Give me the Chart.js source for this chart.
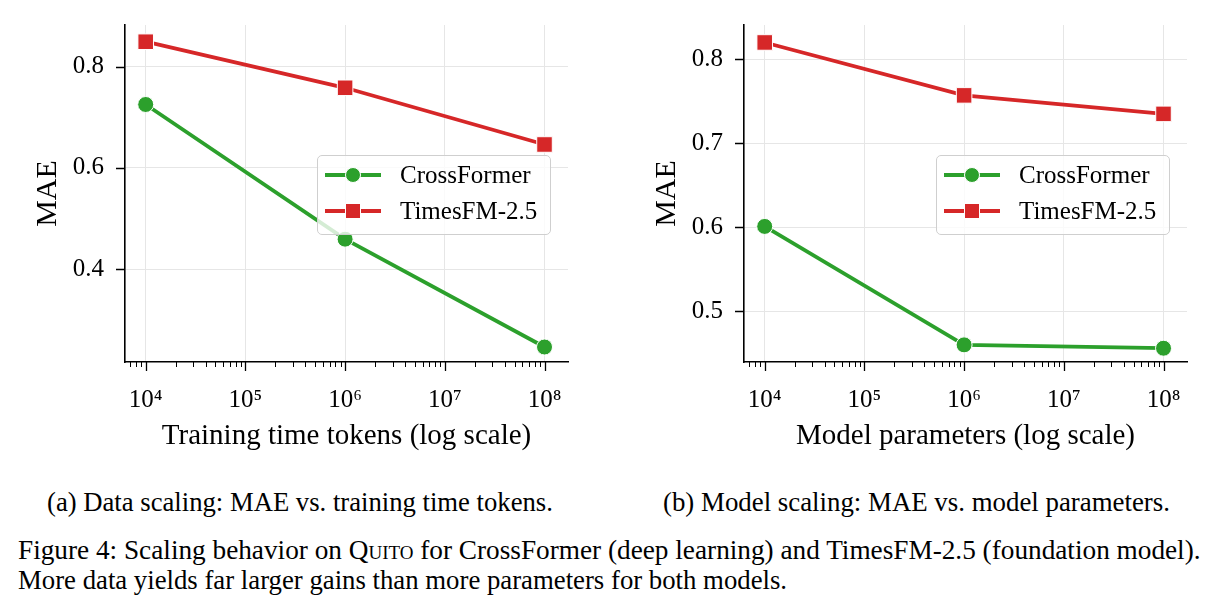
<!DOCTYPE html>
<html>
<head>
<meta charset="utf-8">
<script src="https://cdn.jsdelivr.net/npm/chart.js@4.4.1/dist/chart.umd.min.js"></script>
<style>
  html, body { margin: 0; padding: 0; background: #fff; }
  body { width: 1218px; height: 615px; position: relative; overflow: hidden;
         font-family: "Liberation Serif", "Times New Roman", serif; color: #000; }
  .panel { position: absolute; top: 0; width: 600px; height: 460px; }
  .panel canvas { position: absolute; left: 0; top: 0; }
  .legend { position: absolute; left: 317px; top: 155px; width: 234px; height: 80px;
            box-sizing: border-box; border: 1.5px solid #cfcfcf; border-radius: 5px;
            background: rgba(255,255,255,0.8); font-size: 25px; }
  .item { position: absolute; left: 0; width: 100%; height: 30px; }
  .item .ln { position: absolute; left: 7px; width: 56px; top: 13px; height: 4px; }
  .item .mk { position: absolute; left: 27px; top: 7px; width: 16px; height: 16px;
              box-sizing: border-box; border: 1px solid #fff; }
  .item .txt { position: absolute; left: 82px; top: 0; line-height: 30px; white-space: nowrap; }
  .cap { position: absolute; font-size: 27px; white-space: nowrap; line-height: 30px; }
  .sc { font-variant: small-caps; }
</style>
</head>
<body>
<div class="panel" id="panelA" style="left:0px"><canvas id="chartA" width="600" height="460"></canvas></div>
<div class="panel" id="panelB" style="left:619px"><canvas id="chartB" width="600" height="460"></canvas></div>

<div class="cap" id="capA" data-w="506" style="top:487px; left:47px">(a) Data scaling: MAE vs. training time tokens.</div>
<div class="cap" id="capB" data-w="507" style="top:487px; left:663px">(b) Model scaling: MAE vs. model parameters.</div>
<div class="cap" id="fig1" data-w="1183" style="top:535px; left:18px">Figure 4: Scaling behavior on <span class="sc">Quito</span> for CrossFormer (deep learning) and TimesFM-2.5 (foundation model).</div>
<div class="cap" id="fig2" data-w="769" style="top:565px; left:18px">More data yields far larger gains than more parameters for both models.</div>

<script>
// x positions (log scale)
const xValues = [1e4, 1e6, 1e8];

// (a) data scaling
const dataCrossFormer = [0.725, 0.459, 0.246];
const dataTimesFM = [0.849, 0.758, 0.646];

// (b) model scaling
const modelCrossFormer = [0.601, 0.460, 0.456];
const modelTimesFM = [0.820, 0.757, 0.735];

const xTickValues = [1e4, 1e5, 1e6, 1e7, 1e8];
const xTickLabels = ['10⁴', '10⁵', '10⁶', '10⁷', '10⁸'];
const dataYTicks = [0.4, 0.6, 0.8];
const modelYTicks = [0.5, 0.6, 0.7, 0.8];

const seriesNames = ['CrossFormer', 'TimesFM-2.5'];
const seriesColors = ['#2ca02c', '#d62728'];
const xTitles = ['Training time tokens (log scale)', 'Model parameters (log scale)'];

const FONT = '"Liberation Serif", "Times New Roman", serif';

// outward tick marks (major + log minor), matplotlib style
const tickMarks = {
  id: 'tickMarks',
  afterDraw(chart) {
    const { ctx, chartArea } = chart;
    const x = chart.scales.x, y = chart.scales.y;
    ctx.save();
    ctx.strokeStyle = '#000';
    ctx.lineWidth = 1.3;
    ctx.beginPath();
    x.ticks.forEach(t => {
      const px = Math.round(x.getPixelForValue(t.value)) + 0.5;
      ctx.moveTo(px, chartArea.bottom);
      ctx.lineTo(px, chartArea.bottom + 9);
    });
    y.ticks.forEach(t => {
      const py = Math.round(y.getPixelForValue(t.value)) + 0.5;
      ctx.moveTo(chartArea.left, py);
      ctx.lineTo(chartArea.left - 9, py);
    });
    ctx.stroke();
    ctx.lineWidth = 1;
    ctx.beginPath();
    const e0 = Math.floor(Math.log10(x.min)), e1 = Math.ceil(Math.log10(x.max));
    for (let e = e0; e <= e1; e++) {
      for (let k = 2; k < 10; k++) {
        const v = k * Math.pow(10, e);
        if (v < x.min || v > x.max) continue;
        const px = Math.round(x.getPixelForValue(v)) + 0.5;
        ctx.moveTo(px, chartArea.bottom);
        ctx.lineTo(px, chartArea.bottom + 5);
      }
    }
    ctx.stroke();
    ctx.restore();
  }
};

function makeChart(id, cross, times, yTicks, yMin, yMax, xTitle) {
  const pts = vals => vals.map((v, i) => ({ x: xValues[i], y: v }));
  return new Chart(document.getElementById(id), {
    type: 'line',
    data: {
      datasets: [
        { label: seriesNames[0], data: pts(cross), borderColor: seriesColors[0], backgroundColor: seriesColors[0],
          borderWidth: 3.8, pointStyle: 'circle', pointRadius: 8, pointBorderColor: '#fff', pointBorderWidth: 1 },
        { label: seriesNames[1], data: pts(times), borderColor: seriesColors[1], backgroundColor: seriesColors[1],
          borderWidth: 3.8, pointStyle: 'rect', pointRadius: 11, pointBorderColor: '#fff', pointBorderWidth: 1 }
      ]
    },
    options: {
      responsive: false,
      animation: false,
      layout: { padding: { left: 0, top: 25, right: 32, bottom: 0 } },
      plugins: { legend: { display: false }, tooltip: { enabled: false } },
      elements: { line: { tension: 0 } },
      scales: {
        x: {
          type: 'logarithmic',
          min: 6200, max: 1.72e8,
          afterBuildTicks: s => { s.ticks = xTickValues.map(v => ({ value: v })); },
          afterFit: s => { s.height = 98; },
          ticks: { autoSkip: false, maxRotation: 0, padding: 0, color: '#000',
                   font: { family: FONT, size: 25 },
                   callback: (v, i) => xTickLabels[i] },
          // invisible tick length keeps labels off the axis without extra layout padding
          grid: { color: '#e6e6e6', lineWidth: 1, drawTicks: true, tickLength: 23, tickColor: 'rgba(0,0,0,0)' },
          border: { display: true, color: '#000', width: 1.6 },
          title: { display: true, text: xTitle, color: '#000', font: { family: FONT, size: 29 },
                   padding: { top: 0, bottom: 6 } }
        },
        y: {
          min: yMin, max: yMax,
          afterBuildTicks: s => { s.ticks = yTicks.map(v => ({ value: v })); },
          afterFit: s => { s.width = 125; },
          ticks: { padding: 0, color: '#000', font: { family: FONT, size: 25 },
                   callback: v => v.toFixed(1) },
          grid: { color: '#e6e6e6', lineWidth: 1, drawTicks: true, tickLength: 21, tickColor: 'rgba(0,0,0,0)' },
          border: { display: true, color: '#000', width: 1.6 },
          title: { display: true, text: 'MAE', color: '#000', font: { family: FONT, size: 30 },
                   padding: { top: 30, bottom: 0 } }
        }
      }
    },
    plugins: [tickMarks]
  });
}

function makeLegend(panelId) {
  const box = document.createElement('div');
  box.className = 'legend';
  seriesNames.forEach((name, i) => {
    const item = document.createElement('div');
    item.className = 'item';
    item.style.top = (i === 0 ? 4 : 40) + 'px';
    const mkStyle = i === 0 ? 'border-radius:50%;' : '';
    item.innerHTML = `<span class="ln" style="background:${seriesColors[i]}"></span>` +
      `<span class="mk" style="background:${seriesColors[i]};${mkStyle}"></span>` +
      `<span class="txt">${name}</span>`;
    box.appendChild(item);
  });
  document.getElementById(panelId).appendChild(box);
}

// fit caption font size to the line widths of the reference
document.querySelectorAll('.cap').forEach(el => {
  const target = +el.dataset.w;
  const w = el.getBoundingClientRect().width;
  el.style.fontSize = (27 * target / w).toFixed(2) + 'px';
});

makeChart('chartA', dataCrossFormer, dataTimesFM, dataYTicks, 0.2164, 0.882, xTitles[0]);
makeChart('chartB', modelCrossFormer, modelTimesFM, modelYTicks, 0.4396, 0.8408, xTitles[1]);
makeLegend('panelA');
makeLegend('panelB');
</script>
</body>
</html>
